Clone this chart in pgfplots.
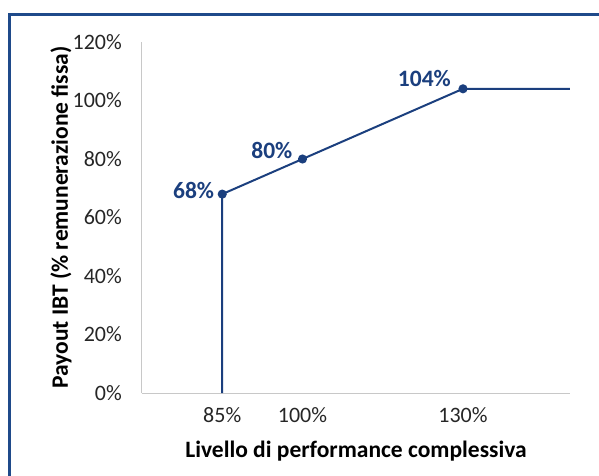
\documentclass[border=0pt]{standalone}
\usepackage{fontspec}
\setmainfont{Carlito}
\usepackage{pgfplots}
\pgfplotsset{compat=1.18}
\definecolor{navy}{HTML}{1B3F7E}
\definecolor{frameblue}{HTML}{1F4A8A}
\definecolor{axgray}{HTML}{C8C8C8}
\begin{document}
\begin{tikzpicture}[x=1pt,y=1pt]
\useasboundingbox (-142,-82) rectangle (457,393);
% outer frame, cut at the right and bottom as in the reference
\draw[frameblue, line width=3pt] (-132,-90) -- (-132,379) -- (470,379);
\begin{axis}[
    scale only axis,
    width=428pt, height=351pt,
    xmin=70, xmax=150, ymin=0, ymax=120,
    axis lines*=left,
    axis line style={axgray, line width=1pt},
    major tick length=0pt,
    clip=false,
    xtick={85,100,130},
    xticklabels={85\%,100\%,130\%},
    ytick={0,20,...,120},
    yticklabel={\pgfmathprintnumber{\tick}\%},
    /pgf/number format/assume math mode=true,
    tick label style={font=\fontsize{22}{22}\selectfont, text=black!85, inner sep=0pt},
    xticklabel style={anchor=center, yshift=-22pt},
    yticklabel style={anchor=east, xshift=-20pt},
    xlabel={Livello di performance complessiva},
    ylabel={Payout IBT (\% remunerazione fissa)},
    label style={font=\bfseries\fontsize{23.5}{23.5}\selectfont, text=black},
    xlabel style={at={(axis description cs:0.5,0)}, anchor=center, yshift=-58pt},
    ylabel style={at={([xshift=-81pt]axis description cs:0,0.5)}, anchor=center},
]
\addplot[navy, line width=2pt, mark=*, mark size=3.5pt, mark indices={2,3,4}]
    coordinates {(85,0) (85,68) (100,80) (130,104) (150,104)};
\node[navy, font=\bfseries\fontsize{23.5}{23.5}\selectfont, anchor=east, inner sep=0pt]
    at (axis cs:85,68) [xshift=-8pt, yshift=4pt] {68\%};
\node[navy, font=\bfseries\fontsize{23.5}{23.5}\selectfont, anchor=east, inner sep=0pt]
    at (axis cs:100,80) [xshift=-10pt, yshift=9pt] {80\%};
\node[navy, font=\bfseries\fontsize{23.5}{23.5}\selectfont, anchor=east, inner sep=0pt]
    at (axis cs:130,104) [xshift=-12pt, yshift=10pt] {104\%};
\end{axis}
\end{tikzpicture}
\end{document}
